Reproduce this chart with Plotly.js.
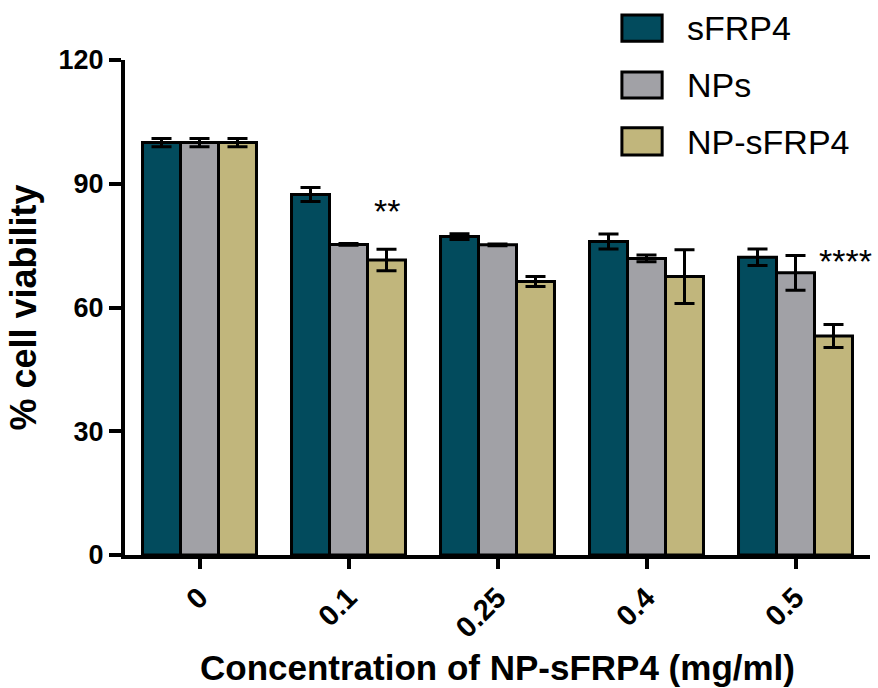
<!DOCTYPE html>
<html>
<head>
<meta charset="utf-8">
<script src="https://cdn.plot.ly/plotly-3.0.1.min.js"></script>
<style>html,body{margin:0;padding:0;background:#fff;}#chart{width:878px;height:688px;}</style>
</head>
<body>
<div id="chart"></div>
<script>
// ---- data ----
const concentrations = ["0", "0.1", "0.25", "0.4", "0.5"];
const seriesNames = ["sFRP4", "NPs", "NP-sFRP4"];
const sFRP4 = [100, 87.4, 77.2, 76.0, 72.2];
const sFRP4Err = [1.0, 1.7, 0.7, 1.8, 2.0];
const NPs = [100, 75.3, 75.2, 71.9, 68.4];
const NPsErr = [1.0, 0.2, 0.2, 0.8, 4.2];
const NPsFRP4 = [100, 71.5, 66.3, 67.5, 53.1];
const NPsFRP4Err = [1.0, 2.6, 1.2, 6.5, 2.8];
const significance = [{cat: "0.1", label: "**", y: 83.5}, {cat: "0.5", label: "****", y: 71.3}];

// ---- style ----
const colors = ["#024B5D", "#A1A1A6", "#C1B67C"];
const values = [sFRP4, NPs, NPsFRP4];
const errs = [sFRP4Err, NPsErr, NPsFRP4Err];
const FONT = "Liberation Sans, Arial, sans-serif";

const traces = values.map((v, i) => ({
  type: "bar",
  name: seriesNames[i],
  x: concentrations,
  y: v,
  marker: {color: colors[i], line: {color: "#000", width: 3}},
  error_y: {type: "data", array: errs[i], visible: true, color: "#000", thickness: 3, width: 10},
  showlegend: false
}));

const shapes = [];
const annotations = [];
const legendTop = [[1.091, 1.038], [0.976, 0.923], [0.863, 0.808]];
const legendText = [1.065, 0.949, 0.834];
seriesNames.forEach((n, i) => {
  shapes.push({type: "rect", xref: "paper", yref: "paper", x0: 0.667, x1: 0.721,
    y0: legendTop[i][1], y1: legendTop[i][0], fillcolor: colors[i], line: {color: "#000", width: 3}});
  annotations.push({xref: "paper", yref: "paper", x: 0.752, y: legendText[i], xanchor: "left", yanchor: "middle",
    text: n, showarrow: false, font: {family: FONT, size: 34, color: "#000"}});
});
significance.forEach((s, k) => {
  annotations.push({xref: "x", yref: "y", x: concentrations.indexOf(s.cat), y: s.y, text: s.label, showarrow: false,
    xshift: k === 0 ? 38 : 50, yanchor: "middle", xanchor: "center",
    font: {family: FONT, size: 34, color: "#000"}});
});

const layout = {
  width: 878, height: 688,
  margin: {l: 125, r: 8, t: 60, b: 133},
  paper_bgcolor: "#fff", plot_bgcolor: "#fff",
  barmode: "group", bargap: 0.235, bargroupgap: 0,
  font: {family: FONT, color: "#000"},
  xaxis: {
    type: "category", range: [-0.5, 4.5],
    showline: true, linecolor: "#000", linewidth: 4,
    ticks: "outside", ticklen: 10, tickwidth: 4, tickcolor: "#000",
    tickangle: -45, tickfont: {family: FONT, size: 29, weight: "bold"},
    showgrid: false, zeroline: false,
    title: {text: "<b>Concentration of NP-sFRP4 (mg/ml)</b>", font: {family: FONT, size: 35}, standoff: 14}
  },
  yaxis: {
    range: [0, 120], dtick: 30, tick0: 0,
    showline: true, linecolor: "#000", linewidth: 4,
    ticks: "outside", ticklen: 12, tickwidth: 4, tickcolor: "#000",
    tickfont: {family: FONT, size: 27, weight: "bold"},
    showgrid: false, zeroline: false,
    title: {text: "<b>% cell viability</b>", font: {family: FONT, size: 36}, standoff: 12}
  },
  shapes: shapes,
  annotations: annotations
};

Plotly.newPlot("chart", traces, layout, {displayModeBar: false, staticPlot: true});
</script>
</body>
</html>
